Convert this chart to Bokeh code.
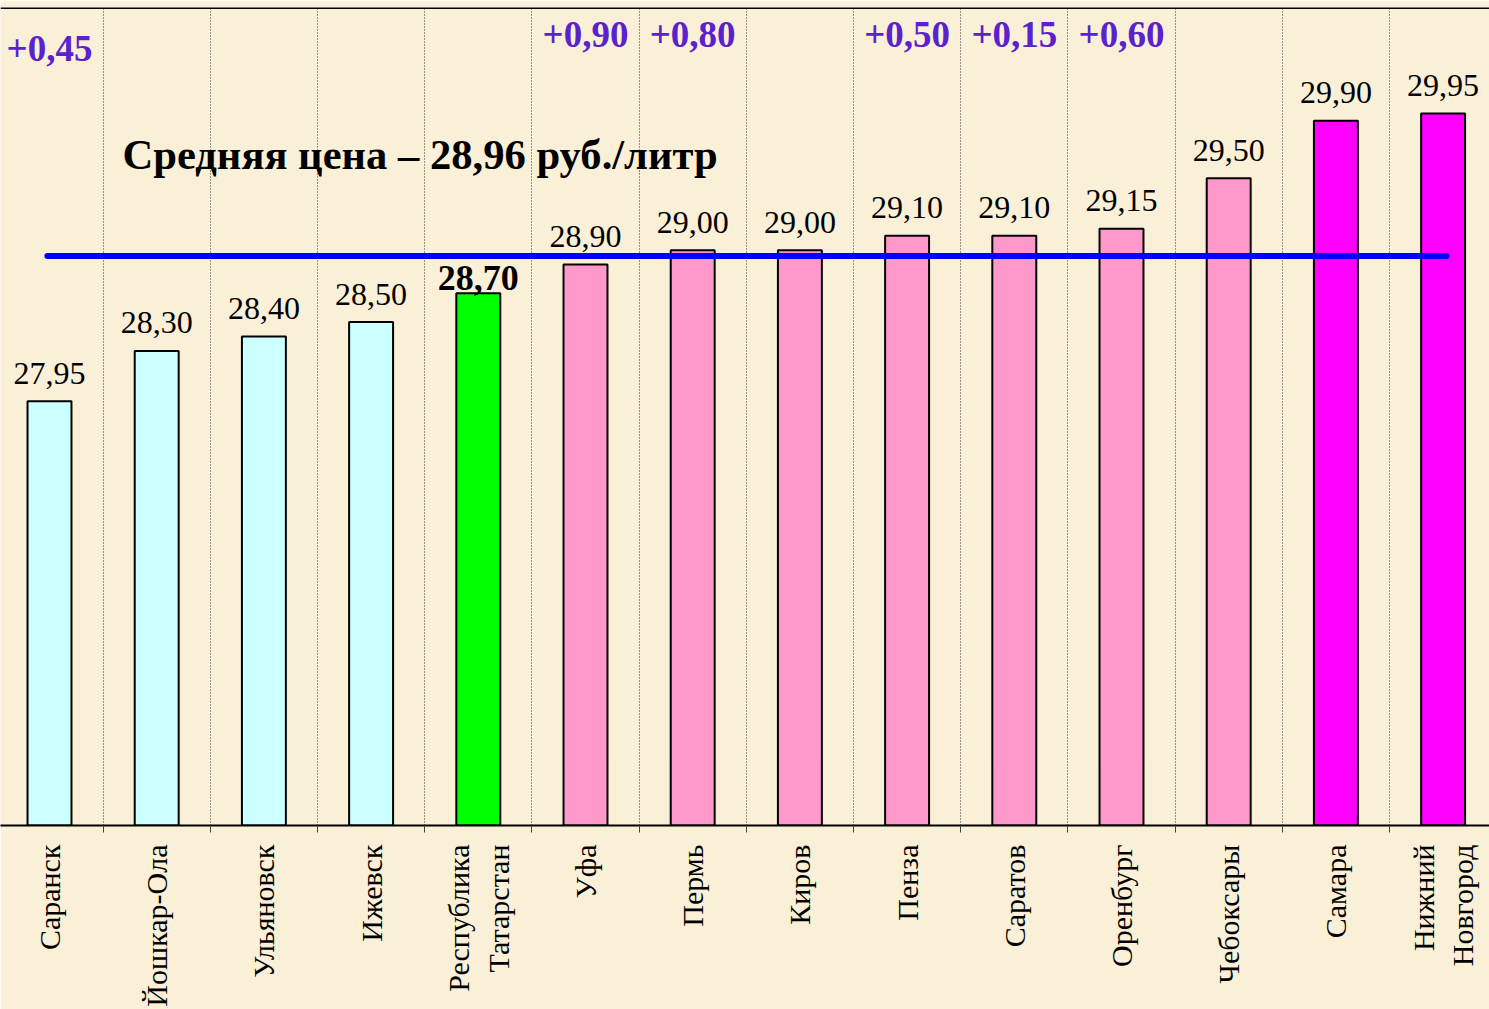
import math
from bokeh.plotting import figure
from bokeh.models import ColumnDataSource, FixedTicker, Range1d, Span
from bokeh.core.properties import value
from bokeh.embed import file_html
from bokeh.resources import INLINE

# ---- data ----
cities = ["Саранск", "Йошкар-Ола", "Ульяновск", "Ижевск", "Республика\nТатарстан",
          "Уфа", "Пермь", "Киров", "Пенза", "Саратов", "Оренбург", "Чебоксары",
          "Самара", "Нижний\nНовгород"]
prices = [27.95, 28.30, 28.40, 28.50, 28.70, 28.90, 29.00, 29.00, 29.10, 29.10,
          29.15, 29.50, 29.90, 29.95]
price_labels = ["27,95", "28,30", "28,40", "28,50", "28,70", "28,90", "29,00", "29,00",
                "29,10", "29,10", "29,15", "29,50", "29,90", "29,95"]
deltas = ["+0,45", "", "", "", "", "+0,90", "+0,80", "", "+0,50", "+0,15", "+0,60",
          "", "", ""]
groups = ["low", "low", "low", "low", "home", "mid", "mid", "mid", "mid", "mid",
          "mid", "mid", "high", "high"]
avg_price = 28.96
avg_text = "Средняя цена – 28,96 руб./литр"

group_colors = {"low": "#CCFFFF", "home": "#00FF00", "mid": "#FF99CC", "high": "#FF00FF"}

n = len(cities)
xs = list(range(n))
colors = [group_colors[g] for g in groups]

SERIF = "Liberation Serif"
BG = "#FAF0D8"

W, H = 1489, 1009
TOP = 7
BASE = 826
px_per_cat = 107.2
px_per_unit = 144.0
x0 = -49 / px_per_cat
x_range = Range1d(x0, x0 + W / px_per_cat)
frame_h = BASE - TOP
y_range = Range1d(25.0, 25.0 + frame_h / px_per_unit)


def ys(screen_y):
    return 25.0 + (BASE - screen_y) / px_per_unit


p = figure(width=W, height=H, x_range=x_range, y_range=y_range,
           output_backend="svg", toolbar_location=None,
           background_fill_color=BG, border_fill_color=BG,
           min_border_left=0, min_border_right=0, min_border_top=TOP,
           min_border_bottom=H - BASE, outline_line_color=None)

p.yaxis.visible = False
p.ygrid.visible = False

bounds = [i + 0.5 for i in range(n - 1)]
p.xaxis.ticker = FixedTicker(ticks=xs, minor_ticks=bounds)
p.xaxis.major_label_overrides = {i: c for i, c in enumerate(cities)}
p.xaxis.major_label_orientation = math.pi / 2
p.xaxis.major_label_text_font = SERIF
p.xaxis.major_label_text_font_size = "30px"
p.xaxis.major_label_text_color = "black"
p.xaxis.major_label_text_align = "center"
p.xaxis.major_label_standoff = 12
p.xaxis.major_tick_out = 0
p.xaxis.major_tick_in = 0
p.xaxis.minor_tick_out = 7
p.xaxis.minor_tick_in = 0
p.xaxis.minor_tick_line_color = "#444444"
p.xaxis.axis_line_color = "black"
p.xaxis.axis_line_width = 2

p.xgrid.ticker = FixedTicker(ticks=bounds)
p.xgrid.grid_line_color = "#333333"
p.xgrid.grid_line_dash = "1 2"
p.xgrid.grid_line_width = 1

src = ColumnDataSource(dict(
    x=xs, top=prices, color=colors, label=price_labels,
    fsize=["36px" if g == "home" else "32px" for g in groups],
    fstyle=["bold" if g == "home" else "normal" for g in groups],
    yoff=[-15 if g == "home" else -28 for g in groups],
))

p.vbar(x="x", top="top", bottom=25.0, width=0.41, fill_color="color",
       line_color="black", line_width=2, source=src)

p.text(x="x", y="top", text="label", source=src, text_align="center",
       text_baseline="alphabetic", y_offset="yoff", text_font=value(SERIF),
       text_font_size="fsize", text_font_style="fstyle", text_color="black")

# average line
p.line(x=[0.0 - 0.02, n - 1 + 0.03], y=[avg_price, avg_price], line_color="#0000FF",
       line_width=6, line_cap="round")

p.text(x=[(122 - 49) / px_per_cat], y=[ys(154)], text=[avg_text],
       text_align="left", text_baseline="alphabetic", text_font=value(SERIF),
       text_font_size="42.6px", text_font_style="bold", text_color="black")

# deltas
dx = [i for i in xs if deltas[i]]
dsrc = ColumnDataSource(dict(
    x=dx,
    t=[deltas[i] for i in dx],
    y=[ys(48 if i == 0 else 34) for i in dx],
))
p.text(x="x", y="y", text="t", source=dsrc, text_align="center",
       text_baseline="alphabetic", text_font=value(SERIF), text_font_size="37px",
       text_font_style="bold", text_color="#5A22CC")

p.add_layout(Span(location=y_range.end, dimension="width", line_color="black",
                  line_width=3))

open("out.html", "w").write(file_html(p, INLINE))
